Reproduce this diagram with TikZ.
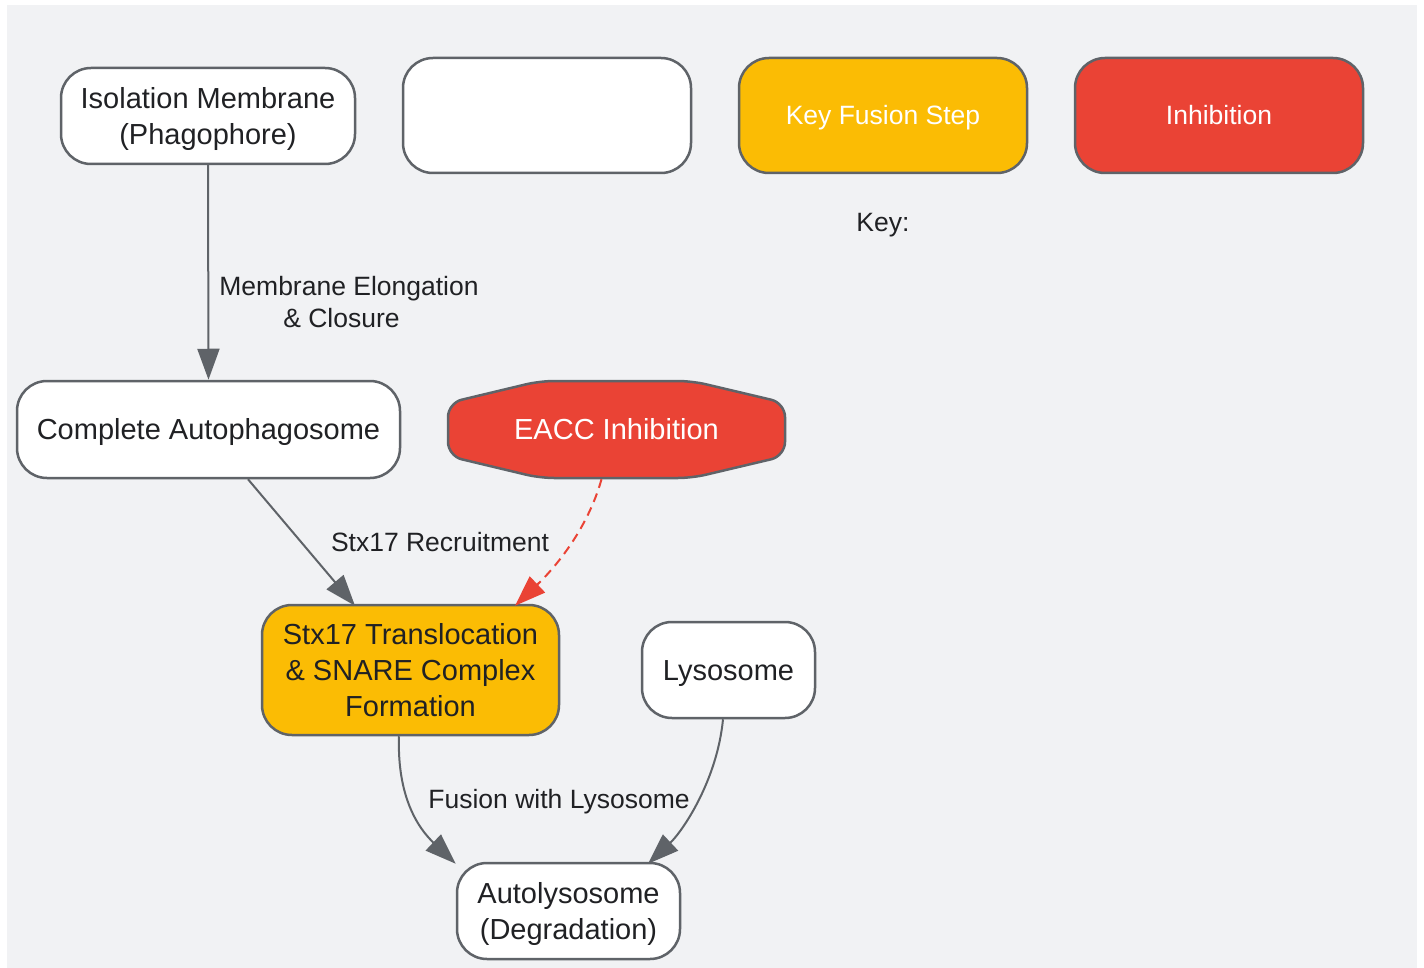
\documentclass[tikz,border=0pt]{standalone}
\usepackage{fontspec}
\setmainfont{Liberation Sans}
\usetikzlibrary{arrows.meta}

\definecolor{bggray}{HTML}{F1F2F4}
\definecolor{linegray}{HTML}{5F6368}
\definecolor{textdark}{HTML}{202124}
\definecolor{fusionyellow}{HTML}{FBBC04}
\definecolor{inhibred}{HTML}{EA4335}

% line box of the sans font (ascent + descent)
\newcommand{\bs}{\rule[-0.212em]{0pt}{1.117em}}

\tikzset{
	stage/.style={draw=linegray, line width=2.5pt, rounded corners=30pt, fill=white,
		inner sep=0pt, align=center, text=textdark, font=\fontsize{29}{36}\selectfont},
	keybox/.style={stage, minimum width=288pt, minimum height=115pt, text=white,
		font=\fontsize{26.5}{32}\selectfont},
	lbl/.style={text=textdark, align=center, font=\fontsize{26.5}{32}\selectfont},
	flow/.style={draw=linegray, line width=2pt, -{Triangle[length=31pt,width=22pt]}},
	block/.style={draw=inhibred, line width=2pt, dash pattern=on 9pt off 6pt,
		-{Triangle[length=31pt,width=22pt]}}
}

\begin{document}
\begin{tikzpicture}[x=1pt, y=-1pt]
	\useasboundingbox (0,0) rectangle (1424,968);
	\fill[bggray] (7,5) rectangle (1417,968);
	% Key
	\node[keybox, fill=white] (keyplain) at (547,115.5) {};
	\node[keybox, fill=fusionyellow] (keyfusion) at (883,115.5) {\bs Key Fusion Step};
	\node[keybox, fill=inhibred] (keyinhib) at (1219,115.5) {\bs Inhibition};
	\node[lbl] (keytitle) at (883,225) {Key:};
	% Pathway
	\node[stage, minimum width=294pt, minimum height=96pt] (phago) at (208,116)
		{\bs Isolation Membrane\\(Phagophore)\bs};
	\node[stage, minimum width=383pt, minimum height=97pt] (auto) at (208.5,429.5)
		{\bs Complete Autophagosome};
	% octagon outline for the inhibitor
	\filldraw[draw=linegray, line width=2.5pt, fill=inhibred, rounded corners=14pt]
		(448,403) -- (540,381) -- (692,381) -- (785,403) -- (785,456)
		-- (692,478) -- (540,478) -- (448,456) -- cycle;
	\node[stage, draw=none, fill=none, text=white, minimum width=337pt, minimum height=97pt]
		(eacc) at (616.5,429.5) {\bs EACC Inhibition};
	\node[stage, fill=fusionyellow, minimum width=297pt, minimum height=130pt] (stx) at (410.5,670)
		{\bs Stx17 Translocation\\\& SNARE Complex\\Formation\bs};
	\node[stage, minimum width=173pt, minimum height=96pt] (lyso) at (728.5,670)
		{\bs Lysosome};
	\node[stage, minimum width=223pt, minimum height=96pt] (autolyso) at (568.5,911)
		{\bs Autolysosome\\(Degradation)\bs};
	% Connectors
	\draw[flow] (phago.south) -- (auto.north);
	\node[lbl] (elong) at (349,302) {Membrane Elongation\\\& Closure\hspace*{15pt}};
	\draw[flow] ([xshift=39.5pt]auto.south) -- ([xshift=-55.5pt, yshift=-2pt]stx.north);
	\node[lbl] (recruit) at (440,542) {Stx17 Recruitment};
	\draw[block] ([xshift=-15pt]eacc.south) .. controls +(-14,50) and +(40,-38)
		.. ([xshift=104.5pt, yshift=-2pt]stx.north);
	\draw[flow] ([xshift=-11.5pt]stx.south) .. controls +(-2,60) and +(-38,-36)
		.. ([yshift=-2pt]autolyso.north west);
	\draw[flow] ([xshift=-5.5pt]lyso.south) .. controls +(-6,62) and +(34,-32)
		.. ([xshift=79.5pt, yshift=-2pt]autolyso.north);
	\node[lbl] (fusion) at (559,802) {Fusion with Lysosome};
\end{tikzpicture}
\end{document}
